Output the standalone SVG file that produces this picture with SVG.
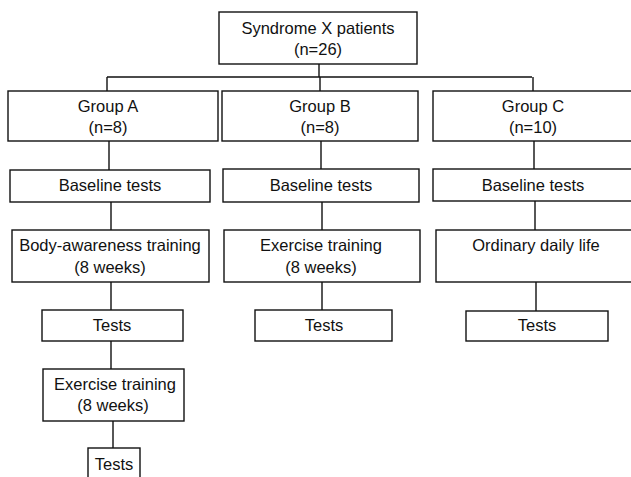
<svg xmlns="http://www.w3.org/2000/svg" width="631" height="477" viewBox="0 0 631 477">
<style>
rect{fill:#fff;stroke:#111;stroke-width:1.4}
text{font-family:"Liberation Sans",Arial,sans-serif;font-size:16.5px;fill:#111;text-anchor:middle}
#connectors path{fill:none;stroke:#111;stroke-width:1.4}
</style>
<rect x="0" y="0" width="631" height="477" style="stroke:none"/>
<g id="connectors">
<path d="M319 64V77M107 77H532M107 77V91M320 77V91M533 77V91"/>
<path d="M109 141V170M321 141V169M534 141V169"/>
<path d="M111 202V230M322 202V230M535 201V230"/>
<path d="M111 282V310M322 282V310M536 282V311"/>
<path d="M111 341V369M113 421V448"/>
</g>
<g id="root"><rect x="219" y="12" width="198" height="52"/><text x="318" y="34">Syndrome X patients</text><text x="318" y="55">(n=26)</text></g>
<g id="groupA"><rect x="8" y="91" width="210" height="50"/><text x="108" y="112">Group A</text><text x="108" y="133">(n=8)</text></g>
<g id="groupB"><rect x="222" y="91" width="196" height="50"/><text x="320" y="112">Group B</text><text x="320" y="133">(n=8)</text></g>
<g id="groupC"><rect x="433" y="91" width="200" height="50"/><text x="533" y="112">Group C</text><text x="533" y="133">(n=10)</text></g>
<g id="baseA"><rect x="10" y="170" width="200" height="32"/><text x="110" y="191">Baseline tests</text></g>
<g id="baseB"><rect x="223" y="169" width="196" height="33"/><text x="321" y="191">Baseline tests</text></g>
<g id="baseC"><rect x="433" y="169" width="200" height="32"/><text x="533" y="191">Baseline tests</text></g>
<g id="bodyA"><rect x="12" y="230" width="197" height="52"/><text x="110" y="251">Body-awareness training</text><text x="110" y="273">(8 weeks)</text></g>
<g id="exerciseB"><rect x="224" y="230" width="196" height="52"/><text x="321" y="251">Exercise training</text><text x="321" y="273">(8 weeks)</text></g>
<g id="ordinaryC"><rect x="436" y="230" width="197" height="52"/><text x="536" y="251">Ordinary daily life</text></g>
<g id="testsA1"><rect x="42" y="310" width="141" height="31"/><text x="112" y="331">Tests</text></g>
<g id="testsB"><rect x="255" y="310" width="137" height="31"/><text x="324" y="331">Tests</text></g>
<g id="testsC"><rect x="466" y="311" width="142" height="30"/><text x="537" y="331">Tests</text></g>
<g id="exerciseA2"><rect x="43" y="369" width="141" height="52"/><text x="115" y="390">Exercise training</text><text x="113" y="411">(8 weeks)</text></g>
<g id="testsA2"><rect x="88" y="448" width="52" height="34"/><text x="114" y="470">Tests</text></g>
</svg>
